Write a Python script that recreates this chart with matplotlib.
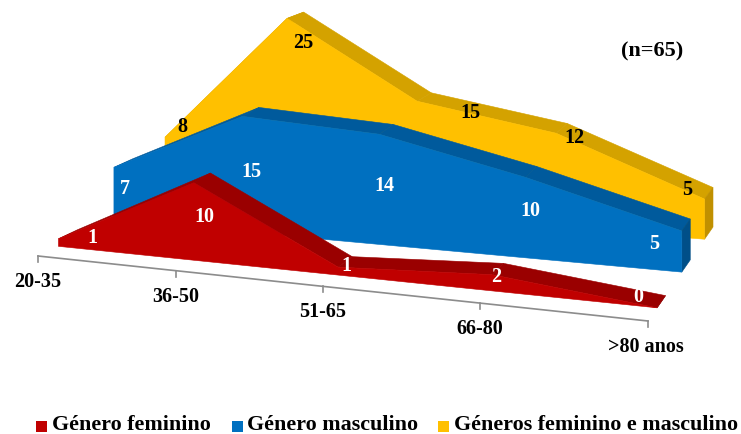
import matplotlib
matplotlib.use("Agg")
import matplotlib.pyplot as plt
from matplotlib.patches import Polygon, Rectangle

plt.rcParams["font.family"] = ["Liberation Serif", "DejaVu Serif"]
plt.rcParams["font.weight"] = "bold"

# --- Data ---
categories = ["20-35", "36-50", "51-65", "66-80", ">80 anos"]
feminino = [1, 10, 1, 2, 0]
masculino = [7, 15, 14, 10, 5]
ambos = [8, 25, 15, 12, 5]

# label offsets from the front top corner of each point, in pixels
offsets_fem = [(34, -2), (10, 33), (8, -2), (4, 1), (-19, -12)]
offsets_masc = [(11, 21), (9, 55), (5, 51), (5, 33), (-28, 12)]
offsets_ambos = [(17, -11), (16, 24), (53, 11), (18, 4), (-17, -10)]

# --- Floor of the 3D box, in pixels ---
FLOOR_NEAR = ((38, 257), (648, 322))
FLOOR_FAR = ((184, 188), (713, 228))
PERSPECTIVE = 1.14
N = len(categories)


def warp(c):
    t = c / (N - 1)
    return t / (t + (1 - t) * PERSPECTIVE)


def project(c, depth, value=0):
    u = warp(c)
    lx = FLOOR_NEAR[0][0] + (FLOOR_FAR[0][0] - FLOOR_NEAR[0][0]) * depth
    ly = FLOOR_NEAR[0][1] + (FLOOR_FAR[0][1] - FLOOR_NEAR[0][1]) * depth
    rx = FLOOR_NEAR[1][0] + (FLOOR_FAR[1][0] - FLOOR_NEAR[1][0]) * depth
    ry = FLOOR_NEAR[1][1] + (FLOOR_FAR[1][1] - FLOOR_NEAR[1][1]) * depth
    # vertical unit grows to the right and shrinks towards the back wall
    unit = 7.6 + 0.7 * u - 0.4 * depth ** 3
    return lx + (rx - lx) * u, ly + (ry - ly) * u - value * unit


def draw_series(ax, values, front, back, color, dark, cap, offsets, label_color):
    idx = range(N)
    front_top = [project(i, front, values[i]) for i in idx]
    back_top = [project(i, back, values[i]) for i in idx]
    front_base = [project(i, front) for i in idx]
    last = N - 1

    # top band, one slab per segment
    for i in range(N - 1):
        ax.add_patch(Polygon([front_top[i], front_top[i + 1], back_top[i + 1], back_top[i]],
                             facecolor=dark, edgecolor=dark, linewidth=0.4))
    # right end cap
    ax.add_patch(Polygon([front_top[last], back_top[last], project(last, back), front_base[last]],
                         facecolor=cap, edgecolor=cap, linewidth=0.4))
    # front face
    ax.add_patch(Polygon(front_top + front_base[::-1], facecolor=color, edgecolor=color, linewidth=0.4))

    for i in idx:
        ax.text(front_top[i][0] + offsets[i][0], front_top[i][1] + offsets[i][1], str(values[i]),
                color=label_color, fontsize=14.5, ha="center", va="center", zorder=5)


fig = plt.figure(figsize=(7.41, 4.35), dpi=100)
ax = fig.add_axes([0, 0, 1, 1])
ax.set_xlim(0, 741)
ax.set_ylim(435, 0)
ax.axis("off")

# back to front
draw_series(ax, ambos, 0.87, 1.0, "#FFC000", "#D4A200", "#C09000", offsets_ambos, "black")
draw_series(ax, masculino, 0.52, 0.65, "#0070C0", "#005A9C", "#004F88", offsets_masc, "white")
draw_series(ax, feminino, 0.14, 0.27, "#C00000", "#9A0000", "#8A0000", offsets_fem, "white")

# category axis
x0, y0 = project(0, 0)
x1, y1 = project(N - 1, 0)
ax.plot([x0, x1], [y0, y1], color="#8C8C8C", linewidth=1.2)
for i, name in enumerate(categories):
    x, y = project(i, 0)
    ax.plot([x, x], [y, y + 6], color="#8C8C8C", linewidth=1.2)
    dx = -2 if i == N - 1 else 0
    ax.text(x + dx, y + 25, name, color="black", fontsize=14.5, ha="center", va="center")

ax.text(652, 51, "(n=65)", color="black", fontsize=16, ha="center", va="center")

# legend row
legend_items = [("Género feminino", "#C00000", 36, 52),
                ("Género masculino", "#0070C0", 232, 247),
                ("Géneros feminino e masculino", "#FFC000", 438, 454)]
for name, col, sx, tx in legend_items:
    ax.add_patch(Rectangle((sx, 422), 10.5, 10.5, facecolor=col, edgecolor="none"))
    ax.text(tx, 425.5, name, color="black", fontsize=15.8, ha="left", va="center")

fig.savefig("out.png", dpi=100)
